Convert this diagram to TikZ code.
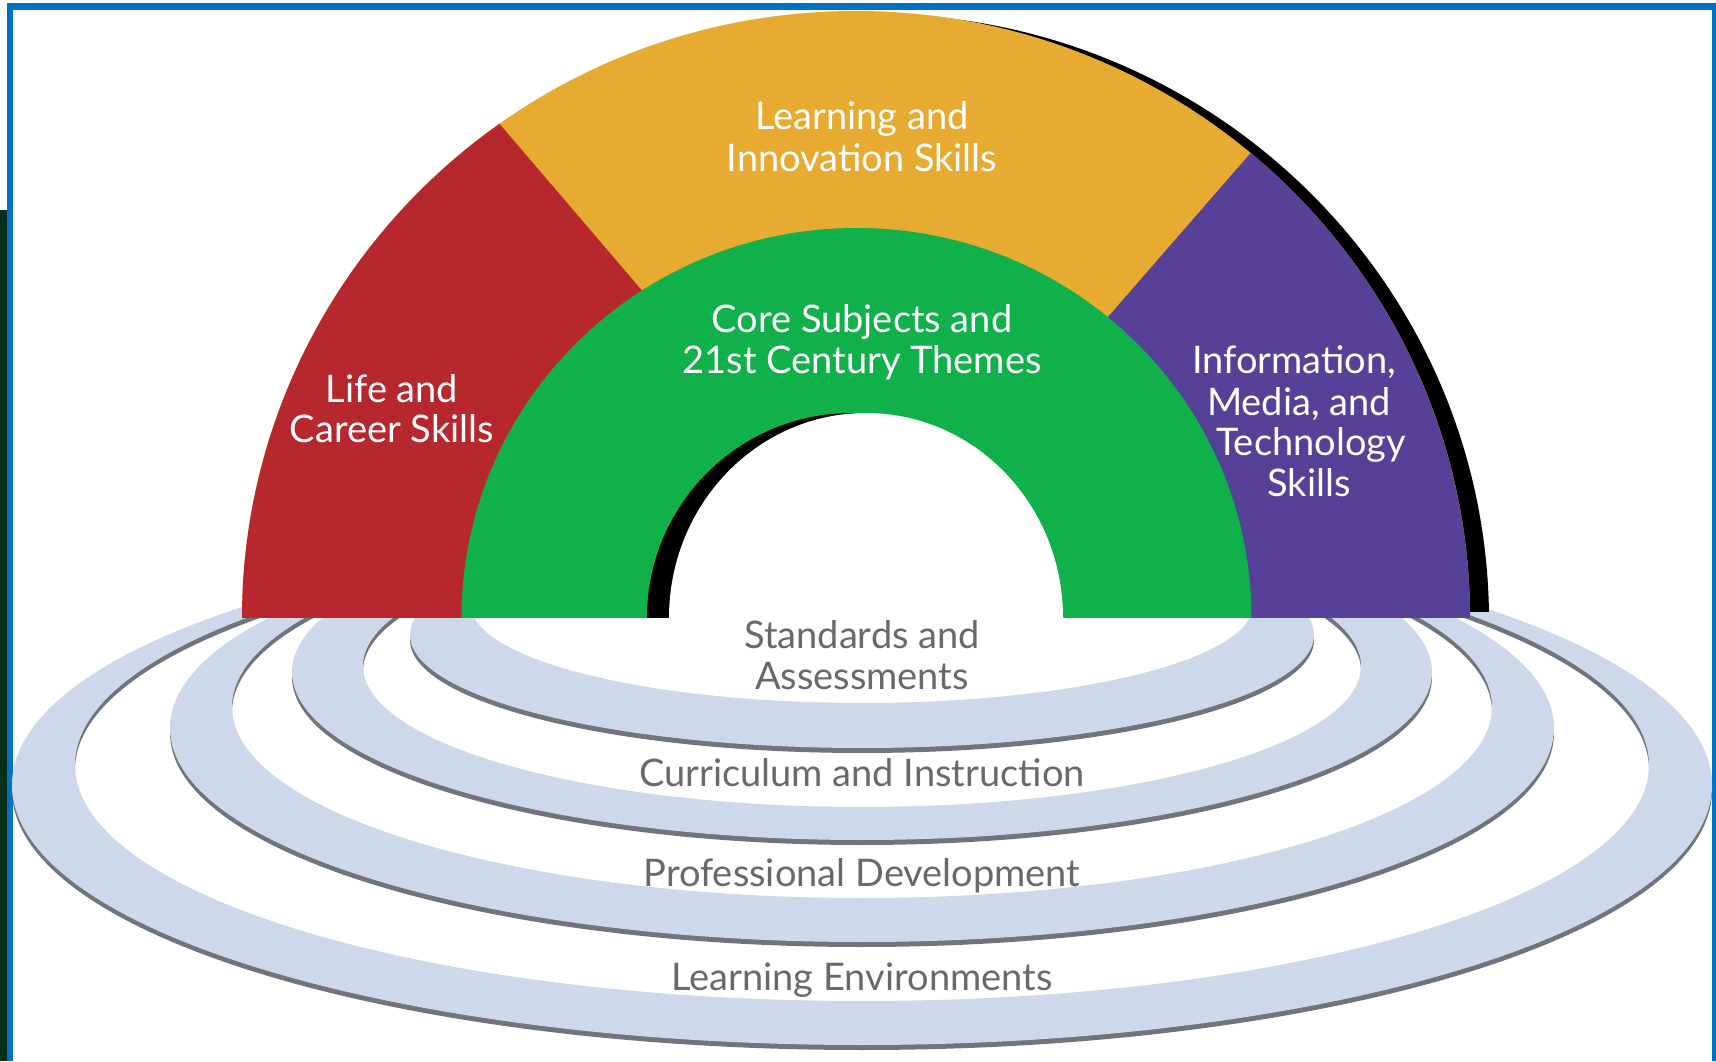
\documentclass[tikz,border=0pt]{standalone}
\usepackage{fontspec}
\setmainfont{Lato}
\definecolor{borderblue}{RGB}{0,114,198}
\definecolor{edgegreen}{RGB}{10,48,28}
\definecolor{segred}{RGB}{183,39,46}
\definecolor{segyellow}{RGB}{231,171,50}
\definecolor{seggreen}{RGB}{16,176,74}
\definecolor{segpurple}{RGB}{86,64,152}
\definecolor{ringblue}{RGB}{205,216,234}
\definecolor{ringgray}{RGB}{112,117,124}
\definecolor{labelgray}{RGB}{105,105,108}
\tikzset{
  seglabel/.style={anchor=base, inner sep=0pt, text=white, font=\fontsize{38}{43}\selectfont},
  ringlabel/.style={anchor=base, inner sep=0pt, text=labelgray, font=\fontsize{38}{43}\selectfont}
}
\begin{document}
\begin{tikzpicture}[x=1pt,y=1pt]
\useasboundingbox (0,0) rectangle (1716,1061);
\fill[white] (0,0) rectangle (1716,1061);
% left dark strip and blue frame
\fill[edgegreen] (0,0) rectangle (6.5,851);
\fill[borderblue] (6.5,0) rectangle (13,1058);
\fill[borderblue] (6.5,1051) rectangle (1716,1058);
\fill[borderblue] (1712,0) rectangle (1716,1058);
% rings (lower layers)
\begin{scope}
\clip (0,0) rectangle (1716,455);
\foreach \yo/\ao/\bo/\yi/\ai/\bi in {276/850/260/296/787/236, 333/692/214/354/630/191, 389/570/168/395/499/141, 426/452/113/456/391/98}{
  \fill[ringgray, even odd rule] (862,\yo-5) ellipse [x radius=\ao, y radius=\bo] (862,\yi-5) ellipse [x radius=\ai, y radius=\bi];
  \fill[ringblue, even odd rule] (862,\yo) ellipse [x radius=\ao, y radius=\bo] (862,\yi) ellipse [x radius=\ai, y radius=\bi];
}
\end{scope}
% outer shadow
\begin{scope}
\clip (0,449) rectangle (1716,1061);
\fill[black] (875,440) ellipse [x radius=614, y radius=607];
\end{scope}
% arch segments
\fill[segyellow] (242,443) arc[start angle=180, end angle=0, x radius=614, y radius=607] -- cycle;
\fill[segred] (242,443) arc[start angle=180, end angle=125.5, x radius=614, y radius=607] -- (922,443) -- cycle;
\fill[segpurple] (1470,443) arc[start angle=0, end angle=50, x radius=614, y radius=607] -- (846,443) -- cycle;
\fill[seggreen] (461.5,443) arc[start angle=180, end angle=0, x radius=395, y radius=390] -- cycle;
\fill[black] (647,443) arc[start angle=180, end angle=0, radius=205] -- cycle;
\fill[white] (669,443) arc[start angle=180, end angle=0, x radius=197, y radius=205] -- cycle;
% labels in the arch
\node[seglabel] (lis1) at (862,931) {Learning and};
\node[seglabel] (lis2) at (862,889) {Innovation Skills};
\node[seglabel] (core1) at (862,728) {Core Subjects and};
\node[seglabel] (core2) at (862,687) {21st Century Themes};
\node[seglabel] (life1) at (392,658) {Life and};
\node[seglabel] (life2) at (392,618) {Career Skills};
\node[seglabel] (imt1) at (1294,687) {Information,};
\node[seglabel] (imt2) at (1299,645) {Media, and};
\node[seglabel] (imt3) at (1311,605) {Technology};
\node[seglabel] (imt4) at (1309,564) {Skills};
% labels in the rings
\node[ringlabel] (sa1) at (862,412) {Standards and};
\node[ringlabel] (sa2) at (862,371) {Assessments};
\node[ringlabel] (ci) at (862,274) {Curriculum and Instruction};
\node[ringlabel] (pd) at (862,175) {Professional Development};
\node[ringlabel] (le) at (862,71) {Learning Environments};
\end{tikzpicture}
\end{document}
